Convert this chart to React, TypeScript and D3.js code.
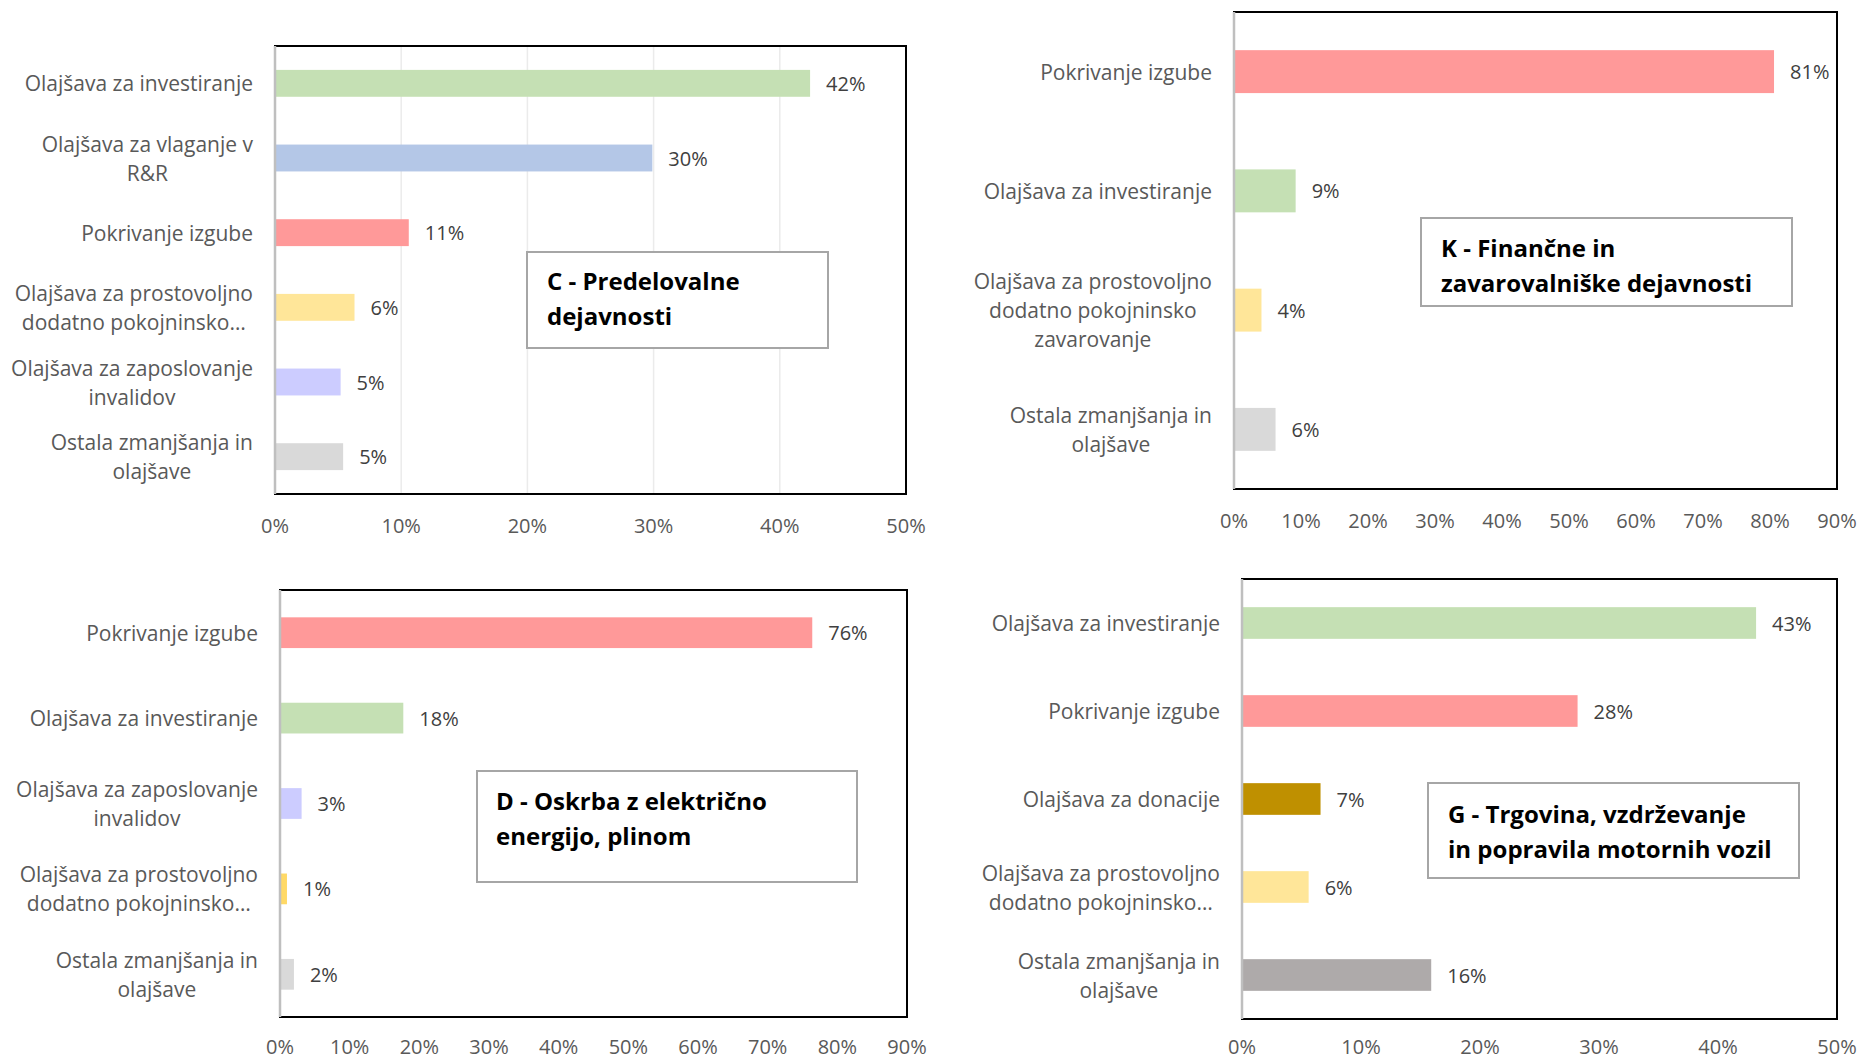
import React from "react";
import * as d3 from "d3";

// C - Predelovalne dejavnosti
const catC = [
  "Olajšava za investiranje",
  "Olajšava za vlaganje v\nR&R",
  "Pokrivanje izgube",
  "Olajšava za prostovoljno\ndodatno pokojninsko…",
  "Olajšava za zaposlovanje\ninvalidov",
  "Ostala zmanjšanja in\nolajšave",
];
const valC = [42.4, 29.9, 10.6, 6.3, 5.2, 5.4];
const colC = ["#C5E0B4", "#B4C7E7", "#FF9999", "#FFE699", "#CCCCFF", "#D9D9D9"];

// K - Finančne in zavarovalniške dejavnosti
const catK = [
  "Pokrivanje izgube",
  "Olajšava za investiranje",
  "Olajšava za prostovoljno\ndodatno pokojninsko\nzavarovanje",
  "Ostala zmanjšanja in\nolajšave",
];
const valK = [80.6, 9.2, 4.1, 6.2];
const colK = ["#FF9999", "#C5E0B4", "#FFE699", "#D9D9D9"];

// D - Oskrba z električno energijo, plinom
const catD = [
  "Pokrivanje izgube",
  "Olajšava za investiranje",
  "Olajšava za zaposlovanje\ninvalidov",
  "Olajšava za prostovoljno\ndodatno pokojninsko…",
  "Ostala zmanjšanja in\nolajšave",
];
const valD = [76.4, 17.7, 3.1, 1.0, 2.0];
const colD = ["#FF9999", "#C5E0B4", "#CCCCFF", "#FFD966", "#D9D9D9"];

// G - Trgovina, vzdrževanje in popravila motornih vozil
const catG = [
  "Olajšava za investiranje",
  "Pokrivanje izgube",
  "Olajšava za donacije",
  "Olajšava za prostovoljno\ndodatno pokojninsko…",
  "Ostala zmanjšanja in\nolajšave",
];
const valG = [43.2, 28.2, 6.6, 5.6, 15.9];
const colG = ["#C5E0B4", "#FF9999", "#BF9000", "#FFE699", "#AEAAAA"];

const titleC = ["C - Predelovalne", "dejavnosti"];
const titleK = ["K - Finančne in", "zavarovalniške dejavnosti"];
const titleD = ["D - Oskrba z električno", "energijo, plinom"];
const titleG = ["G - Trgovina, vzdrževanje", "in popravila motornih vozil"];

const FONT = "'Open Sans', 'Noto Sans', sans-serif";
const CAT_SIZE = 21;

const panels = [
  { cats: catC, vals: valC, cols: colC, max: 50, grid: true,
    plot: { left: 275, right: 906, top: 46, bottom: 494 },
    title: titleC, box: { x: 527, y: 252, w: 301, h: 96, tx: 547, ty: 280 } },
  { cats: catK, vals: valK, cols: colK, max: 90, grid: false,
    plot: { left: 1234, right: 1837, top: 12, bottom: 489 },
    title: titleK, box: { x: 1421, y: 218, w: 371, h: 88, tx: 1441, ty: 247 } },
  { cats: catD, vals: valD, cols: colD, max: 90, grid: false,
    plot: { left: 280, right: 907, top: 590, bottom: 1017 },
    title: titleD, box: { x: 477, y: 771, w: 380, h: 111, tx: 496, ty: 800 } },
  { cats: catG, vals: valG, cols: colG, max: 50, grid: false,
    plot: { left: 1242, right: 1837, top: 579, bottom: 1019 },
    title: titleG, box: { x: 1428, y: 783, w: 371, h: 95, tx: 1448, ty: 813 } },
];

// measure label lines so the wrapped block is right aligned, lines centred
let ctx: CanvasRenderingContext2D | null = null;
function textWidth(s: string) {
  if (!ctx) {
    ctx = document.createElement("canvas").getContext("2d");
    if (ctx) ctx.font = `${CAT_SIZE}px 'Open Sans'`;
  }
  return ctx ? ctx.measureText(s).width : s.length * 10;
}

const Panel = ({ p }: { p: (typeof panels)[number] }) => {
  const { left, right, top, bottom } = p.plot;
  const x = d3.scaleLinear().domain([0, p.max]).range([left, right]);
  const y = d3.scaleBand<number>().domain(d3.range(p.cats.length)).range([top, bottom]).padding(0);
  const barH = y.bandwidth() * 0.36;
  const ticks = d3.range(0, p.max + 1, 10);
  const lh = 29;

  return (
    <g>
      {p.grid &&
        ticks.slice(1, -1).map((t) => (
          <line key={"g" + t} x1={x(t)} x2={x(t)} y1={top} y2={bottom} stroke="#EBEBEB" strokeWidth={1.5} />
        ))}
      {p.vals.map((v, i) => {
        const cy = y(i)! + y.bandwidth() / 2;
        return (
          <g key={i}>
            <rect x={x(0)} y={cy - barH / 2} width={x(v) - x(0)} height={barH} fill={p.cols[i]} />
            <text x={x(v) + 16} y={cy} dominantBaseline="central" fontSize={20} fill="#404040" fontFamily={FONT}>
              {Math.round(v) + "%"}
            </text>
          </g>
        );
      })}
      {p.cats.map((c, i) => {
        const cy = y(i)! + y.bandwidth() / 2;
        const lines = c.split("\n");
        const w = d3.max(lines, (l) => textWidth(l)) || 0;
        return (
          <text key={"c" + i} textAnchor="middle" fontSize={CAT_SIZE} fill="#595959" fontFamily={FONT}>
            {lines.map((ln, j) => (
              <tspan key={j} x={left - 22 - w / 2} y={cy + (j - (lines.length - 1) / 2) * lh} dominantBaseline="central">
                {ln}
              </tspan>
            ))}
          </text>
        );
      })}
      <rect x={left} y={top} width={right - left} height={bottom - top} fill="none" stroke="#000" strokeWidth={2} />
      <line x1={left} x2={left} y1={top} y2={bottom} stroke="#BFBFBF" strokeWidth={2.5} />
      {ticks.map((t) => (
        <text key={"t" + t} x={x(t)} y={Math.min(bottom + 31, 1046)} textAnchor="middle" dominantBaseline="central" fontSize={20} fill="#595959" fontFamily={FONT}>
          {t + "%"}
        </text>
      ))}
      <rect x={p.box.x} y={p.box.y} width={p.box.w} height={p.box.h} fill="#fff" stroke="#A6A6A6" strokeWidth={2} />
      {p.title.map((ln, j) => (
        <text key={"h" + j} x={p.box.tx} y={p.box.ty + j * 35} dominantBaseline="central" fontSize={24} fontWeight="bold" fill="#000" fontFamily={FONT}>
          {ln}
        </text>
      ))}
    </g>
  );
};

export default function App() {
  return (
    <svg width={1861} height={1060} style={{ position: "absolute", left: 0, top: 0, background: "#fff" }}>
      {panels.map((p, i) => (
        <Panel key={i} p={p} />
      ))}
    </svg>
  );
}
